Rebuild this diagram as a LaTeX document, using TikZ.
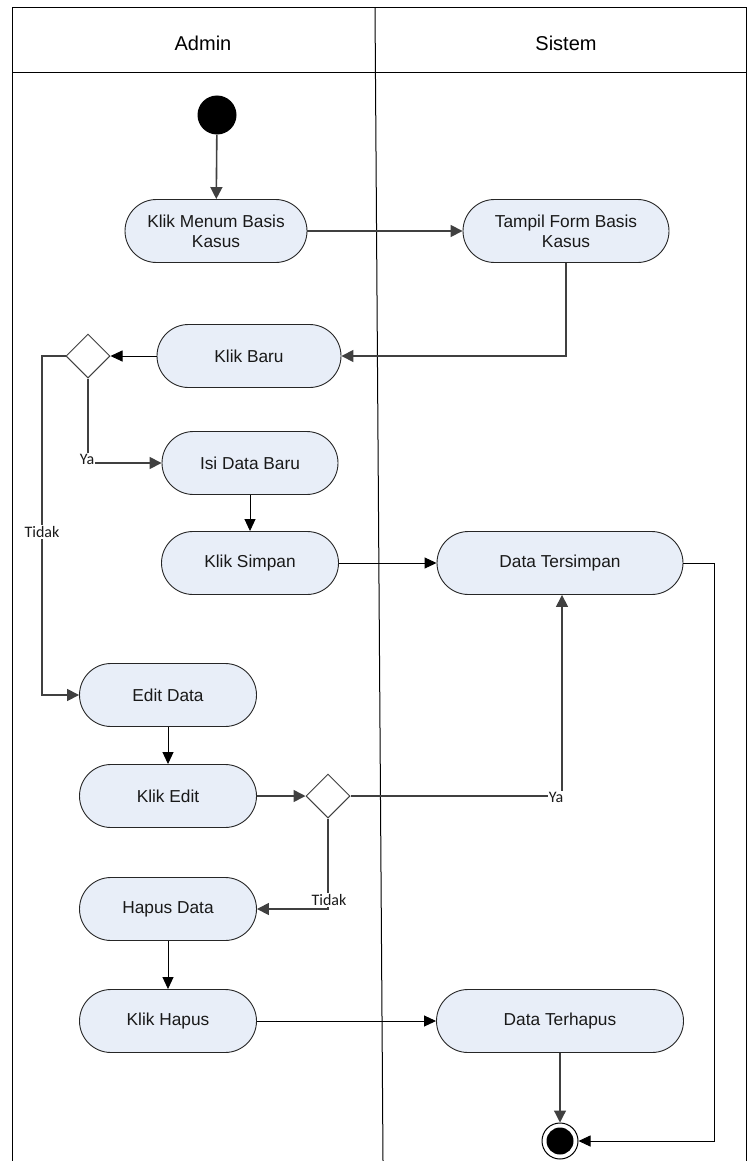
\documentclass[tikz,border=0pt]{standalone}
\usepackage{fontspec}
\setmainfont{Liberation Sans}
\newfontfamily\calib{Carlito}
\usetikzlibrary{arrows.meta,shapes.geometric}
\definecolor{nodefill}{HTML}{E8EEF8}
\definecolor{lgray}{HTML}{404040}
\begin{document}
\begin{tikzpicture}[x=1pt,y=-1pt,
 act/.style={draw=black!85, fill=nodefill, line width=0.9pt, rounded corners=31.5pt, minimum height=63pt, inner sep=0pt, align=center, font=\fontsize{17.3}{20}\selectfont, text=black!90},
 dec/.style={draw=lgray, fill=white, diamond, minimum width=44pt, minimum height=44pt, inner sep=0pt, line width=1pt},
 thickarrow/.style={draw=lgray, line width=1.6pt, -{Triangle[length=12pt,width=12pt]}},
 thinarrow/.style={draw=black, line width=0.9pt, -{Triangle[length=12pt,width=11pt]}},
 lbl/.style={font=\calib\fontsize{16}{18}\selectfont, fill=white, inner sep=1pt, text=black!90}]
\useasboundingbox (0,0) rectangle (747,1161);
% frame
\draw[line width=1pt] (12,1161) -- (12,8) -- (746,8) -- (746,1161);
\draw[line width=1pt] (12,73) -- (746,73);
\draw[line width=1pt] (375,8) -- (383,1161);
\node[font=\fontsize{20}{22}\selectfont] (hadmin) at (203,43) {Admin};
\node[font=\fontsize{20}{22}\selectfont] (hsistem) at (566,43) {Sistem};
% nodes
\node[fill=black, circle, minimum size=39pt, inner sep=0pt] (start) at (217,115) {};
\node[act, minimum width=182pt] (km) at (216,231) {Klik Menum Basis\\Kasus};
\node[act, minimum width=206pt] (tf) at (566,231) {Tampil Form Basis\\Kasus};
\node[act, minimum width=184pt] (kb) at (249,356) {Klik Baru};
\node[dec] (d1) at (88,356) {};
\node[act, minimum width=176pt] (idb) at (250,463) {Isi Data Baru};
\node[act, minimum width=177pt] (ks) at (250,563) {Klik Simpan};
\node[act, minimum width=246pt] (dts) at (560,563) {Data Tersimpan};
\node[act, minimum width=177pt] (ed) at (168,695) {Edit Data};
\node[act, minimum width=177pt] (ke) at (168,796) {Klik Edit};
\node[dec] (d2) at (328,796) {};
\node[act, minimum width=177pt] (hd) at (168,909) {Hapus Data};
\node[act, minimum width=177pt] (kh) at (168,1021) {Klik Hapus};
\node[act, minimum width=247pt] (dth) at (560,1021) {Data Terhapus};
\node[circle, draw, line width=1pt, minimum size=36pt, inner sep=0pt] (end) at (560,1141) {};
\fill (end.center) circle (13.5);
% connectors
\draw[thickarrow] (start) -- (km);
\draw[thickarrow] (km) -- (tf);
\draw[thickarrow] (tf.south) |- (kb.east);
\draw[thinarrow] (kb) -- (d1);
\coordinate (c1) at (42,695);
\draw[thickarrow] (d1.west) -- (d1.west -| c1) -- (c1) -- (ed.west);
\node[lbl] (t1) at (42,532) {Tidak};
\coordinate (c2) at (88,463);
\draw[thickarrow] (d1.south) -- (c2) -- (idb.west);
\node[lbl] (y1) at (87,459) {Ya};
\draw[thinarrow] (idb) -- (ks);
\draw[thinarrow] (ks) -- (dts);
\coordinate (c3) at (714,1141);
\draw[thinarrow] (dts.east) -| (c3) -- (end.east);
\draw[thinarrow] (ed) -- (ke);
\draw[thickarrow] (ke) -- (d2);
\coordinate (c4) at (562,796);
\draw[thickarrow] (d2.east) -- (c4) -- (c4 |- dts.south);
\node[lbl] (y2) at (556,797) {Ya};
\coordinate (c5) at (328,909);
\draw[thickarrow] (d2.south) -- (c5) -- (hd.east);
\node[lbl] (t2) at (329,900) {Tidak};
\draw[thinarrow] (hd) -- (kh);
\draw[thinarrow] (kh) -- (dth);
\draw[thickarrow, line width=1.2pt] (dth) -- (end);
\end{tikzpicture}
\end{document}
